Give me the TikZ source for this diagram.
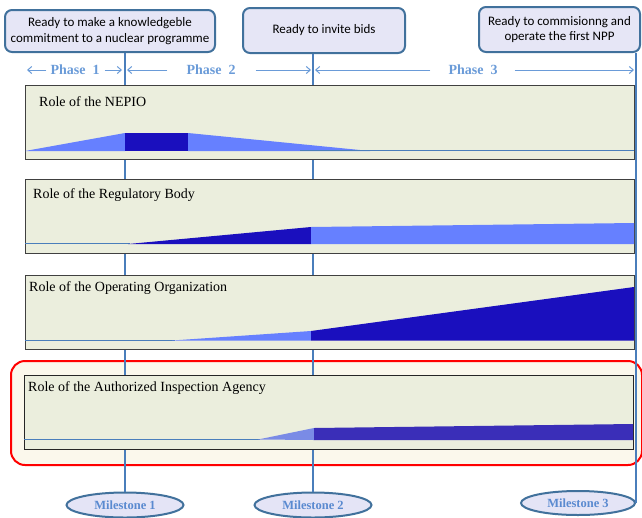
\documentclass[tikz,border=0pt]{standalone}
\usepackage{fontspec}
\setmainfont{Liberation Serif}
\newfontfamily\calibri{Carlito}
\usetikzlibrary{arrows.meta,positioning,shapes.geometric}
\definecolor{msline}{HTML}{4A7EBB}
\definecolor{boxedge}{HTML}{41719C}
\definecolor{boxfill}{HTML}{E6E6F6}
\definecolor{panelfill}{HTML}{EBEEDD}
\definecolor{lightrole}{HTML}{6680FF}
\definecolor{darkrole}{HTML}{1A0FBE}
\definecolor{lightaia}{HTML}{7A8BE6}
\definecolor{darkaia}{HTML}{3A2EB8}
\definecolor{phaseblue}{HTML}{6A9BD8}
\definecolor{msfill}{HTML}{E4E4F6}
\definecolor{mstext}{HTML}{5A8AD0}
\definecolor{focusfill}{HTML}{FBF8EC}

\begin{document}
\begin{tikzpicture}[x=1pt, y=-1pt,
    readybox/.style={rectangle, draw=boxedge, fill=boxfill, rounded corners=7pt,
                line width=2pt, font=\calibri\fontsize{13}{15.5}\selectfont,
                align=center, inner sep=0pt},
    panel/.style={rectangle, draw=black!75, fill=panelfill, line width=1pt,
                anchor=north west, minimum width=609pt, minimum height=74pt, inner sep=0pt},
    role/.style={anchor=west, font=\fontsize{14}{16}\selectfont, inner sep=0pt},
    phase/.style={text=phaseblue, font=\bfseries\fontsize{14}{16}\selectfont, inner sep=0pt},
    parr/.style={-{Straight Barb[length=4pt,width=7pt]}, phaseblue, line width=1pt},
    vline/.style={msline, line width=2.5pt},
    base/.style={msline, line width=0.8pt},
    milestone/.style={ellipse, draw=boxedge, fill=msfill, line width=2pt,
                minimum width=117pt, minimum height=25pt, inner sep=0pt,
                text=mstext, font=\bfseries\fontsize{12.5}{14}\selectfont}
]
\useasboundingbox (0,0) rectangle (642,517);

% readiness boxes on top
\node[readybox, minimum width=210pt, minimum height=42pt] (ready1) at (110,31)
    {Ready to make a knowledgeble\\commitment to a nuclear programme};
\node[readybox, minimum width=162pt, minimum height=45pt] (ready2) at (324,30.5)
    {Ready to invite bids};
\node[readybox, minimum width=161pt, minimum height=45pt] (ready3) at (559.5,29.5)
    {Ready to commisionng and\\operate the first NPP};

% milestones at the bottom
\node[milestone] (ms1) at (125,505) {Milestone 1};
\node[milestone] (ms2) at (313,505) {Milestone 2};
\node[milestone, minimum width=114pt, minimum height=24pt] (ms3) at (578,503) {Milestone 3};

% highlighted row
\node[draw=red, fill=focusfill, line width=2pt, rounded corners=14pt, anchor=north west,
      minimum width=631pt, minimum height=104pt, inner sep=0pt] (focus) at (10,360) {};

\draw[vline] (ready1.south -| ms1) -- (ms1.north);
\draw[vline] (ready2.south -| ms2) -- (ms2.north);
\draw[vline] (ready3.south -| ms3.east) -- (ms3.east);

% phases
\node[phase] (ph1) at (75,70) {Phase\ \ 1};
\node[phase] (ph2) at (211,70) {Phase\ \ 2};
\node[phase] (ph3) at (473,70) {Phase\ \ 3};
\coordinate (p0) at (27,70);
\draw[parr, shorten <=4pt] (ph1.west) -- (p0);
\draw[parr, shorten <=5pt, shorten >=3pt] (ph1.east) -- (ph1 -| ms1);
\draw[parr, shorten <=19pt, shorten >=2pt] (ph2.west) -- (ph2 -| ms1);
\draw[parr, shorten <=20pt, shorten >=2pt] (ph2.east) -- (ph2 -| ms2);
\draw[parr, shorten <=18pt, shorten >=2pt] (ph3.west) -- (ph3 -| ms2);
\draw[parr, shorten <=17pt, shorten >=2pt] (ph3.east) -- (ph3 -| ms3.east);

% role of the NEPIO
\node[panel] (nepio) at (25,85) {};
\node[role] (nepio-lbl) at ([xshift=14pt, yshift=-17pt]nepio.north west) {Role of the NEPIO};
\fill[lightrole] (25,151) -- (125,133) -- (125,151) -- cycle;
\fill[darkrole] (125,133) rectangle (188,151);
\fill[lightrole] (188,133) -- (370,151) -- (188,151) -- cycle;
\draw[base] (300,150.5) -- (634,150.5);

% role of the regulatory body
\node[panel] (regbody) at (25,179) {};
\node[role] (regbody-lbl) at ([xshift=8pt, yshift=-16pt]regbody.north west) {Role of the Regulatory Body};
\draw[base] (25,243.5) -- (130,243.5);
\fill[darkrole] (128,244) -- (311,227) -- (311,244) -- cycle;
\fill[lightrole] (311,227) -- (634,223) -- (634,244) -- (311,244) -- cycle;

% role of the operating organization
\node[panel] (operator) at (25,275) {};
\node[role] (operator-lbl) at ([xshift=4pt, yshift=-13pt]operator.north west) {Role of the Operating Organization};
\draw[base] (25,340) -- (175,340);
\fill[lightrole] (172,340.5) -- (311,331) -- (311,340.5) -- cycle;
\fill[darkrole] (311,340.5) -- (311,331) -- (634,287) -- (634,340.5) -- cycle;

% role of the authorized inspection agency
\node[panel, draw=black!85, minimum width=609pt] (agency) at (24,375) {};
\node[role] (agency-lbl) at ([xshift=4pt, yshift=-13pt]agency.north west) {Role of the Authorized Inspection Agency};
\draw[base] (24,439) -- (260,439);
\fill[lightaia] (258,439.5) -- (314,428) -- (314,440) -- cycle;
\fill[darkaia] (314,428) -- (633,424) -- (633,440) -- (314,440) -- cycle;
\end{tikzpicture}
\end{document}
